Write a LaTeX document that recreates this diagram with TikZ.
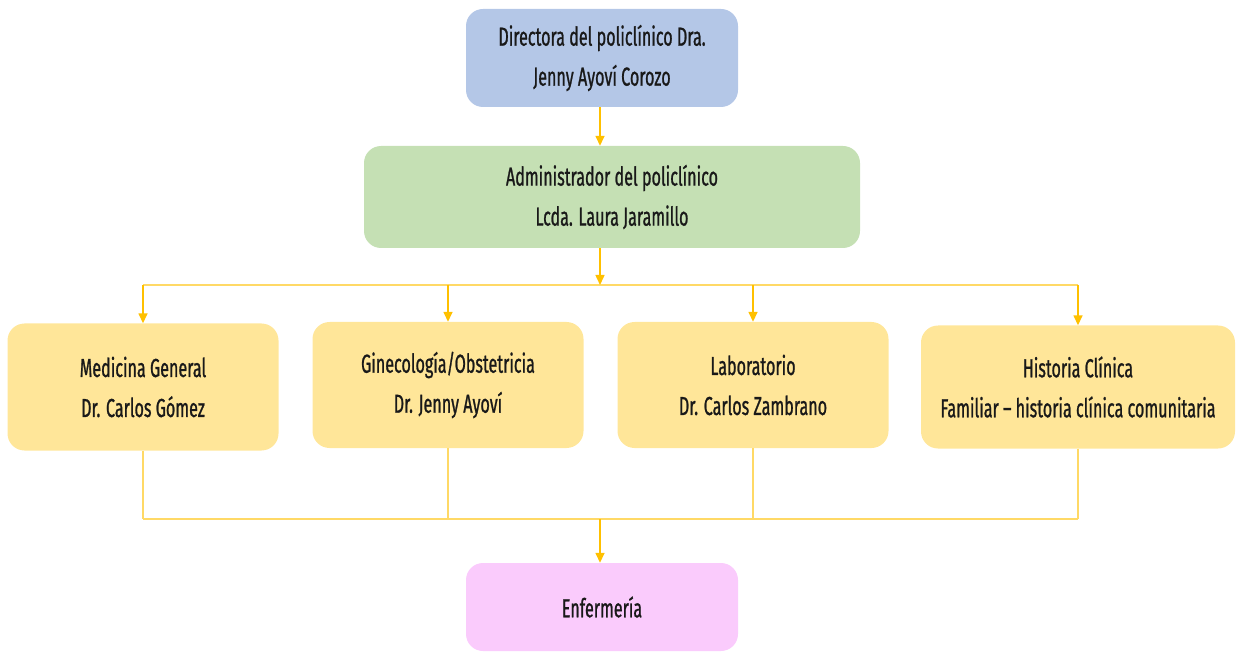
\documentclass[tikz,border=0pt]{standalone}
\usepackage{fontspec}
\setmainfont[FakeStretch=0.62, FakeBold=0.9]{Fira Sans}
\usetikzlibrary{arrows.meta}
\definecolor{dirblue}{HTML}{B4C7E7}
\definecolor{admgreen}{HTML}{C5E0B4}
\definecolor{unityellow}{HTML}{FFE699}
\definecolor{nursepink}{HTML}{FACBFC}
\definecolor{arrowgold}{HTML}{FFC000}
\definecolor{linegold}{HTML}{FFD966}
\tikzset{
  unitbox/.style={rounded corners=17pt, inner sep=0pt, align=center,
    font=\fontsize{26}{40}\selectfont, text=black!90},
  flow/.style={draw=arrowgold, line width=1.5pt, -{Triangle[width=9pt,length=10pt]}},
  bus/.style={draw=linegold, line width=1.3pt},
}
\begin{document}
\begin{tikzpicture}[x=1pt, y=-1pt]
  \useasboundingbox (0,0) rectangle (1237,652);
  % hierarchy boxes
  \node[unitbox, fill=dirblue, minimum width=272pt, minimum height=98pt] (dir) at (602,58)
    {Directora del policlínico Dra.\\Jenny Ayoví Corozo};
  \node[unitbox, fill=admgreen, minimum width=496pt, minimum height=102pt] (adm) at (612,197)
    {Administrador del policlínico\\Lcda. Laura Jaramillo};
  \node[unitbox, fill=unityellow, minimum width=271pt, minimum height=127pt] (med) at (143,387)
    {Medicina General\\Dr. Carlos Gómez};
  \node[unitbox, fill=unityellow, minimum width=271pt, minimum height=126pt] (gin) at (448,385)
    {Ginecología/Obstetricia\\Dr. Jenny Ayoví};
  \node[unitbox, fill=unityellow, minimum width=271pt, minimum height=126pt] (lab) at (753,385)
    {Laboratorio\\Dr. Carlos Zambrano};
  \node[unitbox, fill=unityellow, minimum width=314pt, minimum height=123pt] (his) at (1078,387)
    {Historia Clínica\\Familiar – historia clínica comunitaria};
  \node[unitbox, fill=nursepink, minimum width=272pt, minimum height=88pt] (enf) at (602,607)
    {Enfermería};
  % junction points
  \coordinate (top) at (600,285);
  \coordinate (low) at (600,519);
  % director to administrator
  \draw[flow] (dir.south -| top) -- (adm.north -| top);
  % administrator to the units
  \draw[bus] (med.north |- top) -- (his.north |- top);
  \draw[flow] (adm.south -| top) -- (top);
  \foreach \unit in {med,gin,lab,his}
    \draw[flow] (\unit.north |- top) -- (\unit.north);
  % units to nursing
  \foreach \unit in {med,gin,lab,his}
    \draw[bus] (\unit.south) -- (\unit.south |- low);
  \draw[bus] (med.south |- low) -- (his.south |- low);
  \draw[flow] (low) -- (enf.north -| low);
\end{tikzpicture}
\end{document}
